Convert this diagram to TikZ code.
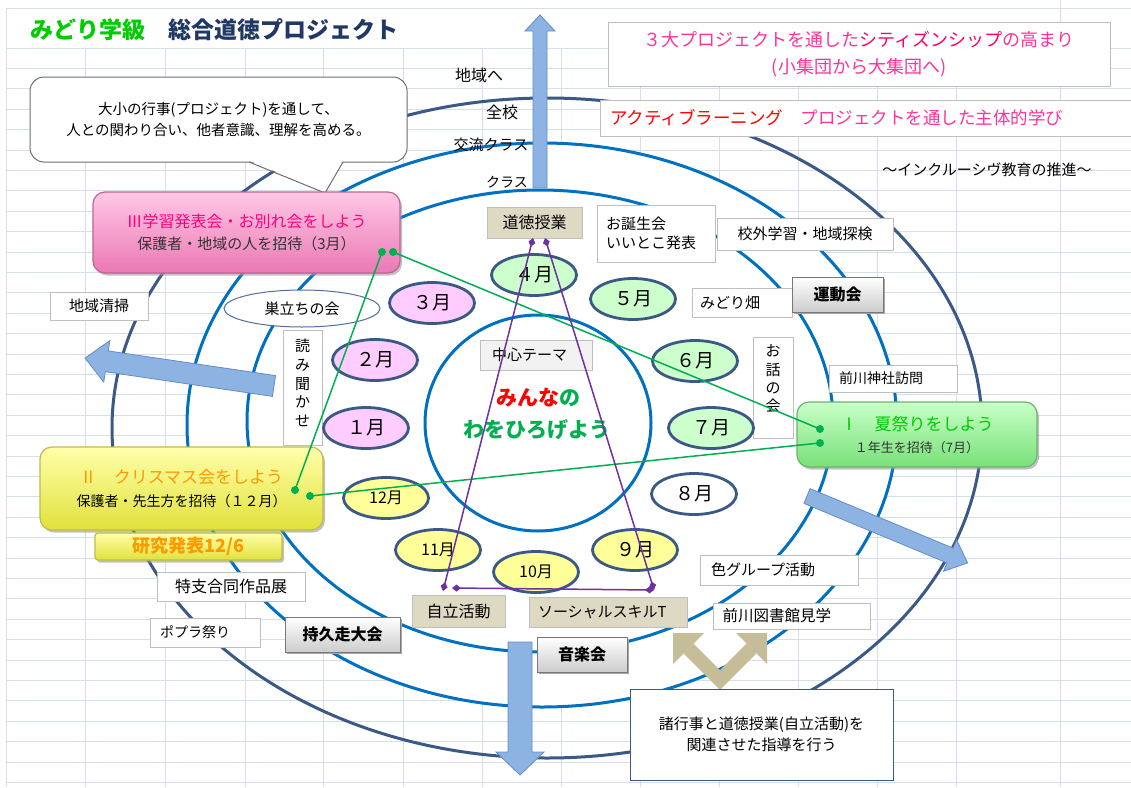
\documentclass[tikz,border=0pt]{standalone}
\usepackage{fontspec}
\setmainfont{Noto Sans CJK JP}
\usetikzlibrary{arrows.meta,shapes.geometric,shadows}
\newcommand\fs[2]{\fontsize{#1pt}{#2pt}\selectfont}
\definecolor{gridc}{RGB}{214,222,236}
\definecolor{ringdark}{RGB}{59,89,133}
\definecolor{ringblue}{RGB}{0,112,192}
\definecolor{arrowfill}{RGB}{141,179,226}
\definecolor{arrowline}{RGB}{100,140,200}
\definecolor{tanarrow}{RGB}{196,189,151}
\definecolor{boxgray}{RGB}{191,191,191}
\definecolor{tanfill}{RGB}{221,217,195}
\definecolor{themegray}{RGB}{242,242,242}
\definecolor{btnbot}{RGB}{205,205,205}
\definecolor{btnline}{RGB}{120,120,120}
\definecolor{mgreen}{RGB}{204,255,204}
\definecolor{mpink}{RGB}{255,204,255}
\definecolor{myellow}{RGB}{255,255,153}
\definecolor{sudachiline}{RGB}{80,110,160}
\definecolor{calloutline}{RGB}{110,110,110}
\definecolor{lineGreen}{RGB}{0,176,80}
\definecolor{linePurple}{RGB}{112,48,160}
\definecolor{pinkTop}{RGB}{255,200,230}
\definecolor{pinkMid}{RGB}{255,153,204}
\definecolor{pinkBot}{RGB}{235,120,180}
\definecolor{pinkLine}{RGB}{190,100,150}
\definecolor{yelTop}{RGB}{255,255,170}
\definecolor{yelMid}{RGB}{255,255,102}
\definecolor{yelBot}{RGB}{225,225,60}
\definecolor{yelLine}{RGB}{190,190,70}
\definecolor{grnTop}{RGB}{200,255,200}
\definecolor{grnMid}{RGB}{153,255,153}
\definecolor{grnBot}{RGB}{120,225,120}
\definecolor{grnLine}{RGB}{110,180,110}
\definecolor{titleGreen}{RGB}{0,204,0}
\definecolor{titleNavy}{RGB}{31,56,100}
\definecolor{pinkT}{RGB}{255,51,153}
\definecolor{redpinkT}{RGB}{255,0,102}
\definecolor{redT}{RGB}{255,0,0}
\definecolor{magT}{RGB}{255,0,128}
\definecolor{orangeT}{RGB}{255,153,0}
\definecolor{greenT}{RGB}{0,204,0}
\definecolor{ctrGreen}{RGB}{0,176,80}
\definecolor{darkT}{RGB}{51,51,51}
\newcommand{\blkarrow}[7]{%
  \begin{scope}[shift={(#1,#2)},rotate=#3]
    \draw[bigarrow] (0,-#5) -- ({#4-#7},-#5) -- ({#4-#7},-#6) -- (#4,0) -- ({#4-#7},#6) -- ({#4-#7},#5) -- (0,#5) -- cycle;
  \end{scope}}
\begin{document}
\begin{tikzpicture}[x=1pt,y=-1pt,
  gridline/.style={draw=gridc, line width=0.9pt},
  darkring/.style={draw=ringdark, line width=3pt},
  bluering/.style={draw=ringblue, line width=3pt},
  bigarrow/.style={fill=arrowfill, draw=arrowline, line width=0.8pt},
  tbox/.style={draw=boxgray, fill=white, line width=0.9pt, inner sep=0pt, font=\fs{15}{18}},
  tanbox/.style={tbox, fill=tanfill},
  btn/.style={draw=btnline, line width=1pt, top color=white, bottom color=btnbot, inner sep=0pt, font=\bfseries\fs{16}{19}, drop shadow={shadow xshift=2pt, shadow yshift=-2pt, fill=gray!70, opacity=1}},
  month/.style={ellipse, draw=ringdark, line width=2.8pt, minimum width=85pt, minimum height=41pt, inner sep=0pt, font=\fs{19}{22}},
  bigbox/.style={rounded corners=12pt, line width=1.2pt, inner sep=0pt, align=center, drop shadow={shadow xshift=2pt, shadow yshift=-2.5pt, fill=black!40, opacity=0.6}},
  gdot/.style={circle, fill=lineGreen, minimum size=8pt, inner sep=0pt},
  gline/.style={draw=lineGreen, line width=1.5pt},
  pline/.style={draw=linePurple, line width=1.5pt, {Diamond[length=9pt,width=7pt]}-{Diamond[length=9pt,width=7pt]}},
  txt/.style={inner sep=0pt, font=\fs{15}{18}},
]
\useasboundingbox (0,0) rectangle (1131,787);
\fill[white] (0,0) rectangle (1131,787);
% grid
\foreach \gx in {85,165,245,323,403,482,561,640,719,798,877,956}
  \draw[gridline] (\gx,48) -- (\gx,787);
\draw[gridline] (6,8) -- (6,787);
\draw[gridline] (1060,0) -- (1060,787);
\draw[gridline] (6,8) -- (1131,8);
\foreach \k in {0,...,36}
  \draw[gridline] (6,{48+20.4*\k}) -- (1131,{48+20.4*\k});
% rings
\draw[darkring] (547,428) ellipse [x radius=435, y radius=330];
\draw[bluering, fill=white] (542,425) ellipse [x radius=355, y radius=282];
\draw[bluering] (540,421) ellipse [x radius=293, y radius=231];
\draw[bluering] (538,423) ellipse [x radius=113, y radius=108];
% block arrows
\blkarrow{540}{188}{90}{173}{7}{15}{16}
\blkarrow{520}{642}{-90}{133}{12}{24}{23}
\blkarrow{274}{386}{171.6}{191}{10.5}{21}{22}
\blkarrow{807}{496}{-22.6}{174}{8}{17}{19}
% tan double arrow
\fill[tanarrow] (673,633) -- (673,664) -- (704,633) -- cycle;
\fill[tanarrow] (767,633) -- (767,664) -- (736,633) -- cycle;
\draw[tanarrow, line width=14pt, line join=miter] (688.5,648.5) -- (720,680) -- (751.5,648.5);
% labels along up arrow
\node[txt, font=\fs{16}{19}] (lchiiki) at (479,75) {地域へ};
\node[txt, font=\fs{16}{19}] (lzenko) at (502,112) {全校};
\node[txt] (lkoryu) at (491,145) {交流クラス};
\node[txt, font=\fs{14}{17}] (lclass) at (507,182) {クラス};
% title
\node[txt, anchor=west, font=\bfseries\fs{23}{26}, text=titleGreen] (title1) at (30,30) {みどり学級};
\node[txt, anchor=west, font=\bfseries\fs{23}{26}, text=titleNavy] (title2) at (168,30) {総合道徳プロジェクト};
% top right boxes
\node[tbox, minimum width=502pt, minimum height=64pt, align=center, font=\fs{18}{27}, text=pinkT] (citizen) at (859,54) {３大プロジェクトを通した{\color{redpinkT}シティズンシップ}の高まり\\(小集団から大集団へ)};
\node[tbox, minimum width=540pt, minimum height=36pt, text width=520pt, align=left, font=\fs{17.5}{20}, text=pinkT] (active) at (870,118) {{\color{redT}アクティブラーニング}　プロジェクトを通した主体的学び};
\node[txt] (incl) at (987,170) {～インクルーシヴ教育の推進～};
% callout
\node[draw=calloutline, fill=white, line width=1pt, rounded corners=14pt, minimum width=377pt, minimum height=85pt, inner sep=0pt, align=center, font=\fs{14.5}{21}] (callout) at (218.5,119.5) {大小の行事(プロジェクト)を通して、\\人との関わり合い、他者意識、理解を高める。};
\fill[white] (249.5,160.5) -- (325,193) -- (342.5,160.5) -- cycle;
\draw[calloutline, line width=1pt, line join=miter] (249,162) -- (325,193) -- (343,162);
% small boxes
\node[tanbox, minimum width=95pt, minimum height=31pt, font=\fs{16}{19}] (dotoku) at (534.5,222.5) {道徳授業};
\node[tbox, minimum width=118pt, minimum height=57pt, text width=100pt, align=left, font=\fs{15}{18.5}] (tanjo) at (656,233.5) {お誕生会\\いいとこ発表};
\node[tbox, minimum width=176pt, minimum height=32pt] (kogai) at (805,234) {校外学習・地域探検};
\node[tbox, minimum width=100pt, minimum height=29pt, text width=84pt, align=left] (hatake) at (742,302.5) {みどり畑};
\node[btn, minimum width=91pt, minimum height=35pt] (undo) at (837.5,294.5) {運動会};
\node[tbox, minimum width=40pt, minimum height=101pt] (ohanashi) at (773,387.5) {};
\node[txt, anchor=north, align=center, font=\fs{15}{18.4}] (ohanashiT) at ([yshift=-8pt]ohanashi.north) {お\\話\\の\\会};
\node[tbox, fill=themegray, minimum width=112pt, minimum height=30pt, text width=88pt, align=left] (theme) at (536,355) {中心テーマ};
\node[tbox, minimum width=128pt, minimum height=27pt, text width=108pt, align=left, font=\fs{14}{17}] (jinja) at (893,378.5) {前川神社訪問};
\node[tbox, minimum width=158pt, minimum height=30pt, text width=136pt, align=left] (iro) at (779,570) {色グループ活動};
\node[tbox, minimum width=157pt, minimum height=26pt, text width=138pt, align=left, font=\fs{15.5}{18}] (tosho) at (791.5,616) {前川図書館見学};
\node[tanbox, minimum width=93pt, minimum height=32pt, font=\fs{16}{19}] (jiritsu) at (458.5,611) {自立活動};
\node[tanbox, minimum width=158pt, minimum height=30pt, text width=140pt, align=left] (social) at (608,612) {ソーシャルスキルT};
\node[btn, minimum width=90pt, minimum height=35pt] (ongaku) at (582,654.5) {音楽会};
\node[tbox, draw=ringdark, line width=1pt, minimum width=263pt, minimum height=91pt, align=center, font=\fs{15}{21}] (shogyoji) at (761.5,734.5) {諸行事と道徳授業(自立活動)を\\関連させた指導を行う};
\node[ellipse, draw=sudachiline, line width=1pt, fill=white, minimum width=156pt, minimum height=37pt, inner sep=0pt, font=\fs{15}{18}] (sudachi) at (302,308.5) {巣立ちの会};
\node[tbox, minimum width=39pt, minimum height=115pt] (yomi) at (302.5,387.5) {};
\node[txt, anchor=north, align=center, font=\fs{15}{18.7}] (yomiT) at ([yshift=-9.5pt]yomi.north) {読\\み\\聞\\か\\せ};
\node[tbox, minimum width=98pt, minimum height=28pt] (seiso) at (99,306) {地域清掃};
\node[tbox, minimum width=148pt, minimum height=29pt, font=\fs{16}{19}] (tokushi) at (231,586.5) {特支合同作品展};
\node[tbox, minimum width=110pt, minimum height=29pt, text width=90pt, align=left, font=\fs{14}{17}] (popura) at (205,632.5) {ポプラ祭り};
\node[btn, minimum width=115pt, minimum height=35pt] (jikyu) at (342.5,634.5) {持久走大会};
% center theme
\node[txt, font=\bfseries\fs{21}{24}] (minna) at (538,398) {{\color{redT}みんな}{\color{ctrGreen}の}};
\node[txt, font=\bfseries\fs{21}{24}, text=ctrGreen] (wa) at (537,430) {わをひろげよう};
% months
\node[month, fill=mgreen] (m4) at (534,275) {４月};
\node[month, fill=mgreen] (m5) at (633,299) {５月};
\node[month, fill=mgreen] (m6) at (695,361) {６月};
\node[month, fill=mgreen] (m7) at (711,428) {７月};
\node[month, fill=white] (m8) at (694,494) {８月};
\node[month, fill=myellow] (m9) at (635,550) {９月};
\node[month, fill=myellow, font=\fs{16}{19}] (m10) at (536,572) {10月};
\node[month, fill=myellow, font=\fs{16}{19}] (m11) at (438,550) {11月};
\node[month, fill=myellow, font=\fs{16}{19}] (m12) at (386,498) {12月};
\node[month, fill=mpink] (m1) at (366,428) {１月};
\node[month, fill=mpink] (m2) at (375,360) {２月};
\node[month, fill=mpink] (m3) at (432,303) {３月};
% project boxes
\node[bigbox, top color=pinkTop, middle color=pinkMid, bottom color=pinkBot, draw=pinkLine, minimum width=307pt, minimum height=81pt, font=\fs{15}{22}, text=darkT] (b3) at (246.5,232.5) {{\color{magT}\fontsize{16pt}{22pt}\selectfont Ⅲ学習発表会・お別れ会をしよう}\\保護者・地域の人を招待（3月）};
\node[bigbox, top color=yelTop, middle color=yelMid, bottom color=yelBot, draw=yelLine, minimum width=283pt, minimum height=83pt, font=\fs{14}{23}, text=black] (b2) at (181.5,488.5) {{\color{orangeT}\fontsize{17pt}{23pt}\selectfont Ⅱ　クリスマス会をしよう}\\保護者・先生方を招待（１２月）};
\node[bigbox, rounded corners=3pt, top color=yelTop, middle color=yelMid, bottom color=yelBot, draw=yelLine, minimum width=187pt, minimum height=27pt, font=\bfseries\fs{18}{20}, text=orangeT] (kenkyu) at (188.5,546.5) {研究発表12/6};
\node[bigbox, top color=grnTop, middle color=grnMid, bottom color=grnBot, draw=grnLine, minimum width=240pt, minimum height=65pt, font=\fs{13}{22}, text=darkT] (b1) at (917,434.5) {{\color{greenT}\fontsize{17pt}{22pt}\selectfont Ⅰ　夏祭りをしよう}\\１年生を招待（7月）};
% connectors
\coordinate (d3a) at (382,252);
\coordinate (d3b) at (393,252);
\coordinate (d2a) at (295,490);
\coordinate (d2b) at (310,496);
\coordinate (d1a) at (820,429);
\coordinate (d1b) at (820,443);
\draw[gline] (d3a) -- (d2a);
\draw[gline] (d3b) -- (d1a);
\draw[gline] (d2b) -- (d1b);
\foreach \d in {d3a,d3b,d2a,d2b,d1a,d1b}
  \node[gdot] (\d dot) at (\d) {};
\coordinate (pT1) at (533,238);
\coordinate (pT2) at (545,238);
\coordinate (pL) at (443,591);
\coordinate (pL2) at (452,588);
\coordinate (pR) at (654,590);
\draw[pline] (pT1) -- (pL);
\draw[pline] (pT2) -- (pR);
\draw[pline] (pL2) -- (pR);
\end{tikzpicture}
\end{document}
